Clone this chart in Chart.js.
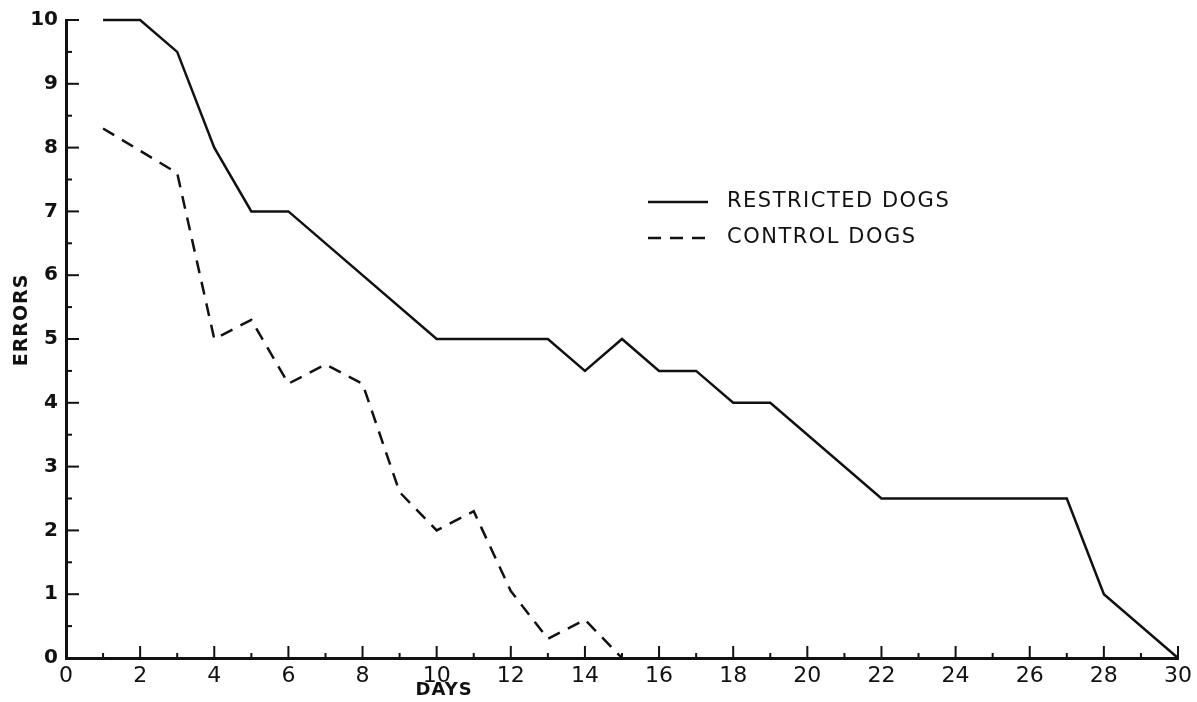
<!DOCTYPE html>
<html>
<head>
<meta charset="utf-8">
<script src="https://cdn.jsdelivr.net/npm/chart.js@4.4.1/dist/chart.umd.min.js"></script>
<style>
  html, body { margin: 0; background: #fff; }
  #wrap { width: 1197px; height: 702px; }
</style>
</head>
<body>
<div id="wrap"><canvas id="errors-chart"></canvas></div>
<script>
// Datos
const restrictedDays   = [1, 2, 3, 4, 5, 6, 10, 13, 14, 15, 16, 17, 18, 19, 22, 27, 28, 30];
const restrictedErrors = [10, 10, 9.5, 8, 7, 7, 5, 5, 4.5, 5, 4.5, 4.5, 4, 4, 2.5, 2.5, 1, 0];
const controlDays   = [1, 3, 4, 5, 6, 7, 8, 9, 10, 11, 12, 13, 14, 15];
const controlErrors = [8.3, 7.6, 5, 5.3, 4.3, 4.6, 4.3, 2.6, 2, 2.3, 1.05, 0.3, 0.6, 0];
const seriesLabels = ["RESTRICTED DOGS", "CONTROL DOGS"];
const xTitle = "DAYS";
const yTitle = "ERRORS";

const FONT = "'DejaVu Sans', sans-serif";
const INK = "#111";

function toPoints(xs, ys) {
  return xs.map((x, i) => ({ x: x, y: ys[i] }));
}

// Marcas hacia adentro, títulos y leyenda
const decorations = {
  id: "decorations",
  afterDraw(chart) {
    const ctx = chart.ctx;
    const xs = chart.scales.x;
    const ys = chart.scales.y;
    const x0 = xs.getPixelForValue(0);
    const y0 = ys.getPixelForValue(0);
    ctx.save();
    ctx.strokeStyle = INK;
    ctx.lineWidth = 2;
    for (let d = 1; d <= 30; d++) {
      const px = xs.getPixelForValue(d);
      const len = d % 2 === 0 ? 12 : 5;
      ctx.beginPath();
      ctx.moveTo(px, y0);
      ctx.lineTo(px, y0 - len);
      ctx.stroke();
    }
    for (let v = 0.5; v <= 10; v += 0.5) {
      const py = ys.getPixelForValue(v);
      const len = Number.isInteger(v) ? 13 : 6;
      ctx.beginPath();
      ctx.moveTo(x0, py);
      ctx.lineTo(x0 + len, py);
      ctx.stroke();
    }

    ctx.fillStyle = INK;
    ctx.textBaseline = "middle";
    ctx.textAlign = "center";
    ctx.font = "bold 18px " + FONT;
    ctx.letterSpacing = "1px";
    ctx.fillText(xTitle, xs.getPixelForValue(10.2), 690);

    ctx.save();
    ctx.translate(22, 320);
    ctx.rotate(-Math.PI / 2);
    ctx.font = "bold 19px " + FONT;
    ctx.fillText(yTitle, 0, 0);
    ctx.restore();

    // Leyenda
    ctx.textAlign = "left";
    ctx.font = "21px " + FONT;
    ctx.letterSpacing = "1.5px";
    chart.data.datasets.forEach((ds, i) => {
      const ly = 202 + i * 36;
      ctx.beginPath();
      ctx.setLineDash(ds.borderDash || []);
      ctx.lineWidth = ds.borderWidth;
      ctx.moveTo(648, ly);
      ctx.lineTo(708, ly);
      ctx.stroke();
      ctx.setLineDash([]);
      ctx.fillText(ds.label, 727, ly);
    });
    ctx.restore();
  }
};

const chart = new Chart(document.getElementById("errors-chart"), {
  type: "line",
  data: {
    datasets: [
      {
        label: seriesLabels[0],
        data: toPoints(restrictedDays, restrictedErrors),
        borderColor: INK,
        borderWidth: 2.5,
        pointRadius: 0,
        tension: 0,
        fill: false,
        clip: false
      },
      {
        label: seriesLabels[1],
        data: toPoints(controlDays, controlErrors),
        borderColor: INK,
        borderWidth: 2.5,
        borderDash: [13, 9],
        pointRadius: 0,
        tension: 0,
        fill: false,
        clip: false
      }
    ]
  },
  options: {
    responsive: true,
    maintainAspectRatio: false,
    animation: false,
    layout: { padding: { top: 20, right: 19, left: 0, bottom: 0 } },
    plugins: {
      legend: { display: false },
      tooltip: { enabled: false }
    },
    scales: {
      x: {
        type: "linear",
        min: 0,
        max: 30,
        grid: { display: false, drawTicks: false },
        border: { display: true, color: INK, width: 3 },
        ticks: { stepSize: 2, padding: 5, color: INK, font: { family: FONT, size: 22 } },
        afterFit(scale) { scale.height = 44; }
      },
      y: {
        min: 0,
        max: 10,
        grid: { display: false, drawTicks: false },
        border: { display: true, color: INK, width: 3 },
        ticks: { stepSize: 1, padding: 8, color: INK, font: { family: FONT, size: 20, weight: "bold" } },
        afterFit(scale) { scale.width = 66; }
      }
    }
  },
  plugins: [decorations]
});
</script>
</body>
</html>
